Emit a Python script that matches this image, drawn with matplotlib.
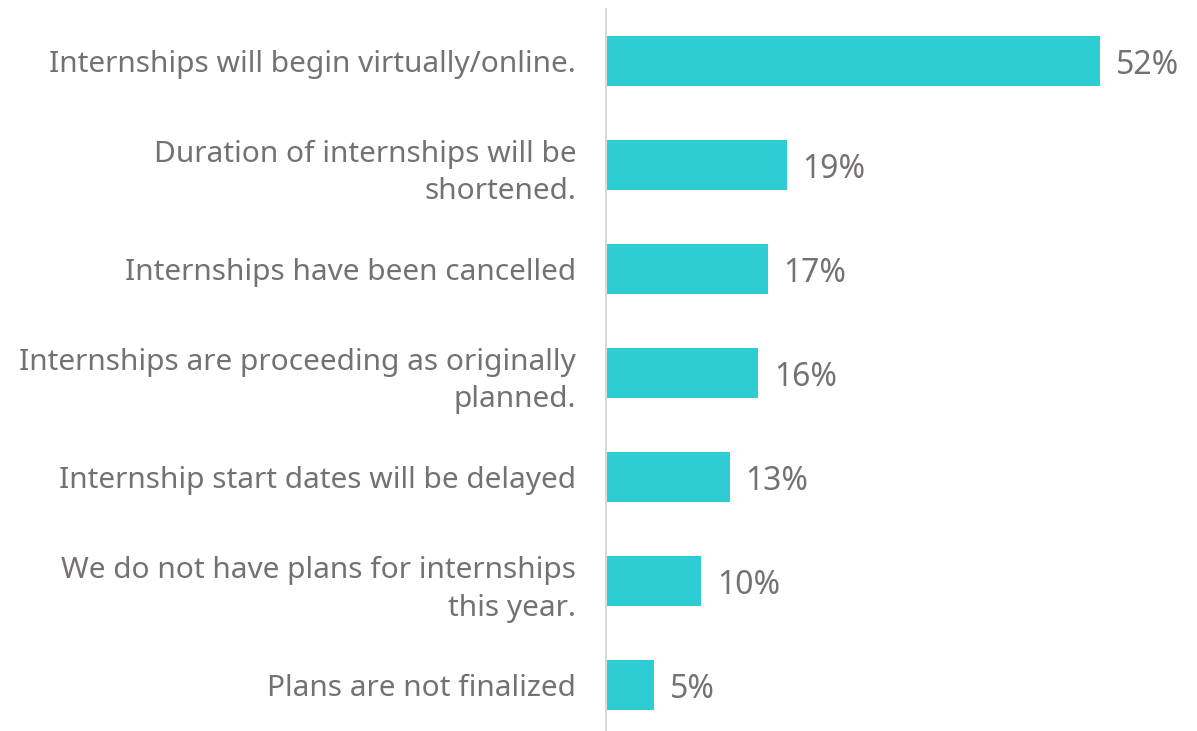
import matplotlib
matplotlib.use("Agg")
import matplotlib.pyplot as plt

# survey answers, top to bottom
categories = [
    "Internships will begin virtually/online.",
    "Duration of internships will be\nshortened.",
    "Internships have been cancelled",
    "Internships are proceeding as originally\nplanned.",
    "Internship start dates will be delayed",
    "We do not have plans for internships\nthis year.",
    "Plans are not finalized",
]
values = [52, 19, 17, 16, 13, 10, 5]

barColor = "#2ECCD3"
textColor = "#767171"

plt.rcParams['font.family'] = ['Noto Sans', 'DejaVu Sans']

fig = plt.figure(figsize=(11.97, 7.31), dpi=100)
# axes placed so the baseline sits at x~606 px
ax = fig.add_axes([606 / 1197, 0, 1 - 606 / 1197, 1 - 9 / 731])

positions = list(range(len(categories)))
ax.barh(positions, values, height=0.48, color=barColor)

ax.set_ylim(6.44, -0.5)
ax.set_xlim(0, 62.2)

ax.set_yticks(positions)
ax.set_yticklabels(categories, fontsize=21.5, color=textColor, ha='right',
                   linespacing=1.4)
ax.tick_params(axis='y', length=0, pad=21.5)
ax.set_xticks([])

for pos, val in zip(positions, values):
    ax.text(val + 1.7, pos, f"{val}%", va='center_baseline', ha='left',
            fontsize=23, color=textColor)

for side in ['top', 'right', 'bottom']:
    ax.spines[side].set_visible(False)
ax.spines['left'].set_color("#D9D9D9")
ax.spines['left'].set_linewidth(1.5)

fig.savefig("out.png", dpi=100)
